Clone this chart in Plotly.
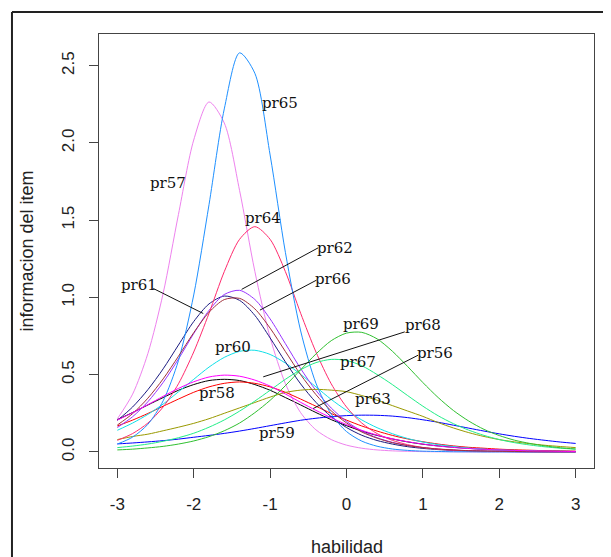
import plotly.graph_objects as go

# ability grid
theta = [round(-3 + 0.2 * i, 1) for i in range(31)]

items = ["pr56", "pr57", "pr58", "pr59", "pr60", "pr61", "pr62",
         "pr63", "pr64", "pr65", "pr66", "pr67", "pr68", "pr69"]

pr56 = [0.209, 0.255, 0.304, 0.352, 0.399, 0.436, 0.462, 0.470, 0.462, 0.436, 0.399,
        0.352, 0.304, 0.255, 0.209, 0.170, 0.135, 0.107, 0.084, 0.065, 0.050, 0.039,
        0.030, 0.023, 0.017, 0.013, 0.010, 0.008, 0.006, 0.005, 0.003]
pr57 = [0.214, 0.374, 0.637, 1.027, 1.537, 2.019, 2.265, 2.129, 1.693, 1.169, 0.741,
        0.442, 0.254, 0.143, 0.080, 0.044, 0.024, 0.013, 0.007, 0.004, 0.002, 0.001,
        0.001, 0.0, 0.0, 0.0, 0.0, 0.0, 0.0, 0.0, 0.0]
pr58 = [0.168, 0.206, 0.249, 0.296, 0.342, 0.386, 0.421, 0.444, 0.453, 0.444, 0.421,
        0.386, 0.342, 0.296, 0.249, 0.206, 0.168, 0.135, 0.107, 0.084, 0.066, 0.051,
        0.039, 0.030, 0.024, 0.018, 0.014, 0.011, 0.008, 0.006, 0.005]
pr59 = [0.052, 0.058, 0.065, 0.073, 0.083, 0.095, 0.107, 0.120, 0.135, 0.152, 0.170,
        0.188, 0.205, 0.218, 0.228, 0.235, 0.238, 0.237, 0.232, 0.222, 0.208, 0.192,
        0.173, 0.154, 0.135, 0.117, 0.101, 0.087, 0.075, 0.064, 0.055]
pr60 = [0.140, 0.187, 0.243, 0.310, 0.389, 0.470, 0.549, 0.612, 0.651, 0.658, 0.631,
        0.575, 0.502, 0.421, 0.340, 0.269, 0.207, 0.157, 0.118, 0.087, 0.064, 0.047,
        0.035, 0.025, 0.018, 0.013, 0.010, 0.007, 0.005, 0.004, 0.003]
pr61 = [0.204, 0.291, 0.403, 0.538, 0.692, 0.844, 0.958, 1.009, 0.981, 0.884, 0.738,
        0.583, 0.440, 0.321, 0.228, 0.158, 0.108, 0.074, 0.051, 0.034, 0.023, 0.015,
        0.010, 0.007, 0.005, 0.003, 0.002, 0.001, 0.001, 0.001, 0.001]
pr62 = [0.158, 0.228, 0.325, 0.450, 0.601, 0.766, 0.916, 1.019, 1.046, 0.987, 0.861,
        0.701, 0.539, 0.398, 0.284, 0.198, 0.135, 0.092, 0.062, 0.042, 0.028, 0.018,
        0.012, 0.008, 0.005, 0.004, 0.002, 0.002, 0.001, 0.001, 0.001]
pr63 = [0.080, 0.100, 0.115, 0.137, 0.160, 0.185, 0.215, 0.250, 0.285, 0.320, 0.355,
        0.385, 0.400, 0.405, 0.400, 0.390, 0.365, 0.335, 0.300, 0.265, 0.230, 0.190,
        0.155, 0.125, 0.100, 0.080, 0.065, 0.053, 0.043, 0.035, 0.028]
pr64 = [0.075, 0.119, 0.187, 0.291, 0.441, 0.647, 0.897, 1.167, 1.376, 1.458, 1.376,
        1.167, 0.897, 0.647, 0.441, 0.291, 0.187, 0.119, 0.075, 0.047, 0.029, 0.018,
        0.011, 0.007, 0.004, 0.003, 0.002, 0.001, 0.001, 0.0, 0.0]
pr65 = [0.051, 0.096, 0.179, 0.331, 0.591, 1.016, 1.600, 2.220, 2.583, 2.451, 1.922,
        1.292, 0.783, 0.445, 0.245, 0.132, 0.070, 0.037, 0.019, 0.010, 0.005, 0.003,
        0.001, 0.001, 0.0, 0.0, 0.0, 0.0, 0.0, 0.0, 0.0]
pr66 = [0.174, 0.248, 0.348, 0.473, 0.619, 0.772, 0.904, 0.986, 0.994, 0.926, 0.801,
        0.650, 0.500, 0.371, 0.266, 0.188, 0.129, 0.089, 0.060, 0.041, 0.028, 0.019,
        0.013, 0.008, 0.006, 0.004, 0.003, 0.002, 0.001, 0.001, 0.001]
pr67 = [0.028, 0.038, 0.051, 0.069, 0.092, 0.121, 0.160, 0.207, 0.264, 0.329, 0.399,
        0.470, 0.532, 0.578, 0.599, 0.592, 0.558, 0.501, 0.436, 0.365, 0.296, 0.234,
        0.183, 0.141, 0.107, 0.080, 0.060, 0.045, 0.033, 0.024, 0.018]
pr68 = [0.206, 0.254, 0.306, 0.360, 0.411, 0.454, 0.485, 0.497, 0.490, 0.465, 0.426,
        0.375, 0.321, 0.269, 0.221, 0.177, 0.140, 0.109, 0.085, 0.066, 0.051, 0.038,
        0.029, 0.022, 0.017, 0.013, 0.010, 0.007, 0.006, 0.004, 0.003]
pr69 = [0.013, 0.018, 0.026, 0.036, 0.051, 0.071, 0.099, 0.137, 0.187, 0.254, 0.334,
        0.429, 0.532, 0.634, 0.720, 0.769, 0.774, 0.732, 0.652, 0.553, 0.449, 0.352,
        0.268, 0.200, 0.146, 0.106, 0.076, 0.055, 0.039, 0.027, 0.019]

series = [pr56, pr57, pr58, pr59, pr60, pr61, pr62, pr63, pr64, pr65, pr66, pr67, pr68, pr69]
colors = ["#000000", "#EE82EE", "#FF0000", "#0000FF", "#11E0E8", "#1A1A80", "#9933FF",
          "#999900", "#FF2A6D", "#1E90FF", "#A0303A", "#22EE88", "#FF00FF", "#30C030"]

# item label positions (ability, information)
label_x = [1.156, -2.333, -1.692, -0.915, -1.487, -2.712, -0.152,
           0.349, -1.090, -0.872, -0.175, 0.152, 1.003, 0.188]
label_y = [0.641, 1.738, 0.382, 0.123, 0.680, 1.080, 1.321,
           0.341, 1.512, 2.256, 1.119, 0.583, 0.821, 0.827]

# leader lines: item, curve point, label point
leader_items = ["pr56", "pr61", "pr62", "pr66", "pr68"]
leader_x0 = [-0.436, -1.875, -1.373, -1.133, -1.090]
leader_y0 = [0.281, 0.896, 1.052, 0.918, 0.486]
leader_x1 = [0.937, -2.529, -0.371, -0.392, 0.763]
leader_y1 = [0.626, 1.058, 1.321, 1.112, 0.777]

fig = go.Figure()
for name, vals, col in zip(items, series, colors):
    fig.add_trace(go.Scatter(x=theta, y=vals, mode="lines", name=name,
                             line=dict(color=col, width=1, shape="spline", smoothing=0.8),
                             showlegend=False, hoverinfo="name+x+y"))

shapes = []
for x0, y0, x1, y1 in zip(leader_x0, leader_y0, leader_x1, leader_y1):
    shapes.append(dict(type="line", xref="x", yref="y", x0=x0, y0=y0, x1=x1, y1=y1,
                       line=dict(color="#111111", width=1)))
# outer frame (left and top edges visible)
shapes.append(dict(type="line", xref="paper", yref="paper", x0=-0.1758, x1=-0.1758,
                   y0=-0.3, y1=1.0507, line=dict(color="#222222", width=2)))
shapes.append(dict(type="line", xref="paper", yref="paper", x0=-0.1758, x1=1.1,
                   y0=1.0507, y1=1.0507, line=dict(color="#222222", width=2)))

annotations = []
for name, lx, ly in zip(items, label_x, label_y):
    annotations.append(dict(x=lx, y=ly, xref="x", yref="y", text=name, showarrow=False,
                            font=dict(family="DejaVu Serif", size=15, color="#111111"),
                            xanchor="center", yanchor="middle"))
# x axis title
annotations.append(dict(x=0.5, y=-0.1813, xref="paper", yref="paper", text="habilidad",
                        showarrow=False, xanchor="center", yanchor="middle",
                        font=dict(family="Liberation Sans, Arial", size=18, color="#222222")))

fig.update_layout(
    width=603, height=549,
    margin=dict(l=91, r=17, t=26, b=89),
    paper_bgcolor="white", plot_bgcolor="white",
    shapes=shapes, annotations=annotations,
    font=dict(family="Liberation Sans, Arial", size=17, color="#222222"),
    xaxis=dict(range=[-3.24, 3.24], tickvals=[-3, -2, -1, 0, 1, 2, 3],
               ticktext=["-3", "-2", "-1", "0", "1", "2", "3"],
               ticks="outside", ticklen=9, tickcolor="#444444", tickwidth=1,
               showgrid=False, zeroline=False, showline=True, mirror=True,
               linecolor="#444444", linewidth=1, ticklabelstandoff=12),
    yaxis=dict(range=[-0.104, 2.705], tickvals=[0, 0.5, 1.0, 1.5, 2.0, 2.5],
               ticktext=["0.0", "0.5", "1.0", "1.5", "2.0", "2.5"], tickangle=-90,
               ticks="outside", ticklen=9, tickcolor="#444444", tickwidth=1,
               showgrid=False, zeroline=False, showline=True, mirror=True,
               linecolor="#444444", linewidth=1, ticklabelstandoff=8,
               title=dict(text="informacion del item", font=dict(size=18), standoff=20)),
)

fig.write_html("out.html")
